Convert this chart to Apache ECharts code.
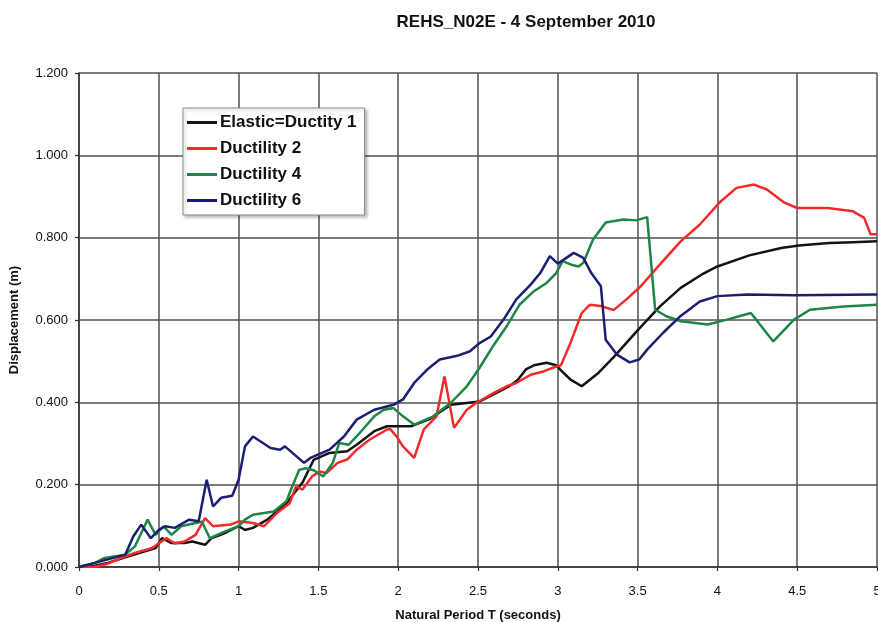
<!DOCTYPE html>
<html>
<head>
<meta charset="utf-8">
<script src="https://cdn.jsdelivr.net/npm/echarts@6/dist/echarts.min.js"></script>
<style>
  html, body { margin: 0; padding: 0; background: #fff; }
  #chart { width: 878px; height: 622px; }
</style>
</head>
<body>
<div id="chart"></div>
<script>
// Displacement spectra, REHS_N02E record, 4 September 2010
const chartTitle = 'REHS_N02E - 4 September 2010';
const seriesNames = ['Elastic=Ductity 1', 'Ductility 2', 'Ductility 4', 'Ductility 6'];

// Natural period (s) and displacement (m) for each ductility level
const elasticT = [0, 0.1, 0.18, 0.31, 0.48, 0.52, 0.58, 0.66, 0.71, 0.79, 0.83, 0.9, 1.0, 1.04, 1.09, 1.18, 1.3, 1.4, 1.47, 1.57, 1.68, 1.74, 1.85, 1.93, 2.0, 2.08, 2.2, 2.33, 2.51, 2.6, 2.7, 2.75, 2.8, 2.85, 2.93, 2.99, 3.04, 3.08, 3.15, 3.25, 3.35, 3.5, 3.64, 3.77, 3.9, 4.0, 4.2, 4.4, 4.51, 4.7, 4.85, 5.0];
const elasticD = [0, 0.003, 0.01, 0.026, 0.046, 0.07, 0.058, 0.058, 0.062, 0.054, 0.07, 0.08, 0.099, 0.09, 0.095, 0.115, 0.155, 0.205, 0.26, 0.277, 0.281, 0.297, 0.33, 0.342, 0.342, 0.342, 0.36, 0.394, 0.402, 0.42, 0.44, 0.455, 0.48, 0.49, 0.496, 0.49, 0.47, 0.455, 0.439, 0.47, 0.51, 0.575, 0.633, 0.678, 0.71, 0.73, 0.757, 0.775, 0.781, 0.787, 0.789, 0.791];

const duct2T = [0, 0.1, 0.18, 0.25, 0.35, 0.46, 0.5, 0.55, 0.6, 0.66, 0.73, 0.79, 0.84, 0.95, 1.0, 1.09, 1.16, 1.24, 1.32, 1.36, 1.4, 1.46, 1.51, 1.55, 1.62, 1.68, 1.74, 1.82, 1.93, 1.95, 1.99, 2.03, 2.1, 2.16, 2.24, 2.29, 2.35, 2.43, 2.49, 2.6, 2.68, 2.74, 2.83, 2.91, 2.99, 3.02, 3.08, 3.15, 3.2, 3.27, 3.35, 3.43, 3.52, 3.64, 3.77, 3.89, 4.02, 4.12, 4.23, 4.31, 4.42, 4.5, 4.69, 4.85, 4.92, 4.96, 5.0];
const duct2D = [0, 0, 0.008, 0.02, 0.034, 0.046, 0.058, 0.07, 0.057, 0.062, 0.078, 0.119, 0.099, 0.103, 0.111, 0.107, 0.099, 0.131, 0.155, 0.196, 0.188, 0.22, 0.232, 0.228, 0.253, 0.261, 0.285, 0.309, 0.334, 0.335, 0.317, 0.293, 0.265, 0.334, 0.366, 0.463, 0.338, 0.382, 0.399, 0.423, 0.439, 0.447, 0.467, 0.475, 0.487, 0.49, 0.545, 0.617, 0.637, 0.634, 0.624, 0.65, 0.682, 0.735, 0.791, 0.832, 0.888, 0.921, 0.929, 0.917, 0.885, 0.872, 0.872, 0.864, 0.848, 0.808, 0.808];

const duct4T = [0, 0.1, 0.16, 0.29, 0.35, 0.43, 0.48, 0.53, 0.58, 0.64, 0.73, 0.77, 0.82, 0.92, 1.0, 1.04, 1.09, 1.22, 1.3, 1.33, 1.38, 1.42, 1.47, 1.53, 1.59, 1.63, 1.69, 1.76, 1.85, 1.91, 1.97, 2.03, 2.1, 2.22, 2.33, 2.43, 2.51, 2.6, 2.68, 2.76, 2.85, 2.93, 2.99, 3.03, 3.08, 3.13, 3.16, 3.22, 3.3, 3.41, 3.49, 3.56, 3.61, 3.68, 3.77, 3.94, 4.06, 4.21, 4.35, 4.48, 4.58, 4.79, 5.0];
const duct4D = [0, 0.01, 0.022, 0.03, 0.05, 0.115, 0.078, 0.099, 0.078, 0.099, 0.107, 0.11, 0.07, 0.087, 0.099, 0.115, 0.127, 0.135, 0.16, 0.19, 0.236, 0.24, 0.235, 0.22, 0.253, 0.301, 0.297, 0.326, 0.366, 0.382, 0.386, 0.366, 0.346, 0.366, 0.399, 0.439, 0.484, 0.54, 0.585, 0.637, 0.67, 0.69, 0.714, 0.743, 0.735, 0.73, 0.739, 0.795, 0.837, 0.844, 0.842, 0.85, 0.625, 0.609, 0.597, 0.589, 0.601, 0.617, 0.548, 0.601, 0.625, 0.633, 0.637];

const duct6T = [0, 0.1, 0.29, 0.34, 0.39, 0.45, 0.5, 0.54, 0.6, 0.69, 0.75, 0.8, 0.84, 0.89, 0.96, 1.0, 1.04, 1.09, 1.2, 1.26, 1.29, 1.41, 1.45, 1.57, 1.66, 1.74, 1.85, 1.97, 2.03, 2.1, 2.18, 2.26, 2.37, 2.45, 2.51, 2.58, 2.66, 2.74, 2.83, 2.89, 2.95, 3.0, 3.1, 3.16, 3.21, 3.27, 3.3, 3.37, 3.45, 3.51, 3.56, 3.66, 3.77, 3.89, 4.0, 4.19, 4.48, 5.0];
const duct6D = [0, 0.01, 0.03, 0.074, 0.103, 0.07, 0.09, 0.099, 0.095, 0.115, 0.111, 0.212, 0.147, 0.168, 0.173, 0.212, 0.293, 0.317, 0.289, 0.285, 0.293, 0.253, 0.265, 0.285, 0.317, 0.358, 0.382, 0.394, 0.407, 0.447, 0.479, 0.504, 0.513, 0.524, 0.544, 0.56, 0.601, 0.65, 0.686, 0.714, 0.755, 0.737, 0.763, 0.751, 0.714, 0.682, 0.552, 0.516, 0.497, 0.504, 0.528, 0.569, 0.61, 0.645, 0.658, 0.662, 0.66, 0.662];

const seriesColors = ['#141414', '#f22a2a', '#1f8446', '#1b1f72'];
const periodSets = [elasticT, duct2T, duct4T, duct6T];
const dispSets = [elasticD, duct2D, duct4D, duct6D];

const FONT = '"Liberation Sans", Arial, sans-serif';
const gridColor = '#505050';

const chart = echarts.init(document.getElementById('chart'), null, { renderer: 'canvas' });

const series = seriesNames.map((name, i) => ({
  name: name,
  type: 'line',
  data: periodSets[i].map((t, k) => [t, dispSets[i][k]]),
  showSymbol: false,
  symbol: 'none',
  smooth: false,
  lineStyle: { color: seriesColors[i], width: 2.5 },
  itemStyle: { color: seriesColors[i] },
  z: 3,
  animation: false
}));

chart.setOption({
  backgroundColor: '#ffffff',
  animation: false,
  title: {
    text: chartTitle,
    left: 521,
    top: 9,
    textAlign: 'center',
    textStyle: { fontFamily: FONT, fontSize: 17, fontWeight: 'bold', color: '#111' }
  },
  grid: { left: 79, right: 1, top: 73, bottom: 55, containLabel: false, outerBoundsMode: 'none' },
  legend: {
    orient: 'vertical',
    left: 183,
    top: 108,
    data: seriesNames,
    icon: 'rect',
    itemWidth: 30,
    itemHeight: 3,
    itemGap: 9,
    padding: [6, 8, 6, 4],
    backgroundColor: '#ffffff',
    borderColor: '#8a8a8a',
    borderWidth: 1,
    shadowColor: 'rgba(0,0,0,0.25)',
    shadowBlur: 3,
    shadowOffsetX: 2,
    shadowOffsetY: 2,
    textStyle: { fontFamily: FONT, fontSize: 17, fontWeight: 'bold', color: '#111', padding: [0, 0, 0, -2] }
  },
  xAxis: {
    type: 'value',
    min: 0,
    max: 5,
    interval: 0.5,
    name: 'Natural Period T (seconds)',
    nameLocation: 'middle',
    nameGap: 42,
    nameTextStyle: { fontFamily: FONT, fontSize: 13, fontWeight: 'bold', color: '#111' },
    axisLine: { show: true, onZero: false, lineStyle: { color: '#333', width: 1.5 } },
    axisTick: { show: true, length: 4, lineStyle: { color: '#333', width: 1.2 } },
    axisLabel: { fontFamily: FONT, fontSize: 13, color: '#111', margin: 18 },
    splitLine: { show: true, lineStyle: { color: gridColor, width: 1.5 } }
  },
  yAxis: {
    type: 'value',
    min: 0,
    max: 1.2,
    interval: 0.2,
    name: 'Displacement (m)',
    nameLocation: 'middle',
    nameGap: 58,
    nameTextStyle: { fontFamily: FONT, fontSize: 13, fontWeight: 'bold', color: '#111' },
    axisLine: { show: true, lineStyle: { color: '#333', width: 1.5 } },
    axisTick: { show: true, length: 4, lineStyle: { color: '#333', width: 1.2 } },
    axisLabel: { fontFamily: FONT, fontSize: 13, color: '#111', margin: 11, formatter: v => v.toFixed(3) },
    splitLine: { show: true, lineStyle: { color: gridColor, width: 1.5 } }
  },
  series: series
});
</script>
</body>
</html>
